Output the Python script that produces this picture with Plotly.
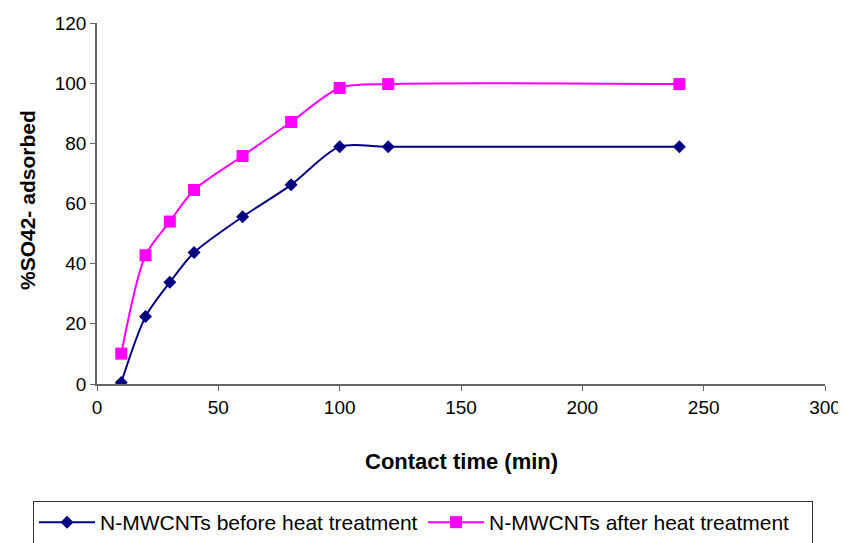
import plotly.graph_objects as go

time_min = [10, 20, 30, 40, 60, 80, 100, 120, 240]
before_heat = [0.5, 22.4, 33.8, 43.7, 55.6, 66.2, 78.9, 78.9, 78.9]
after_heat = [10.1, 42.8, 54.0, 64.5, 75.8, 87.1, 98.4, 99.7, 99.7]

# page body has an 8px margin, so the figure is made 8px smaller and
# margins are measured relative to the figure's own corner
OFF = 8
W, H = 846 - OFF, 543 - OFF
L, R, T, B = 97 - OFF, 21, 23 - OFF, 159
PW, PH = W - L - R, H - T - B
PLOT_BOTTOM = 384  # page px
PLOT_LEFT = 97


def px_x(x):
    return (x - PLOT_LEFT) / PW


def px_y(y):
    return (PLOT_BOTTOM - y) / PH


fig = go.Figure()
fig.add_trace(go.Scatter(
    x=time_min, y=before_heat, name="N-MWCNTs before heat treatment",
    mode="lines+markers",
    line=dict(color="#000080", width=2, shape="spline", smoothing=0.8),
    marker=dict(symbol="diamond", size=10, color="#000080"),
))
fig.add_trace(go.Scatter(
    x=time_min, y=after_heat, name="N-MWCNTs after heat treatment",
    mode="lines+markers",
    line=dict(color="#FF00FF", width=2, shape="spline", smoothing=0.8),
    marker=dict(symbol="square", size=12, color="#FF00FF"),
))

axis_font = dict(family="Liberation Sans, Arial, sans-serif", size=19, color="black")

fig.update_layout(
    width=W, height=H,
    margin=dict(l=L, r=R, t=T, b=B, autoexpand=False),
    paper_bgcolor="white", plot_bgcolor="white",
    font=axis_font,
    showlegend=True,
    legend=dict(
        orientation="h",
        x=px_x(33), xanchor="left", y=px_y(501), yanchor="top",
        bordercolor="#333333", borderwidth=1,
        font=dict(family="Liberation Sans, Arial, sans-serif", size=21, color="black"),
        itemwidth=56, entrywidth=318,
    ),
    xaxis=dict(
        range=[0, 300], tickvals=[0, 50, 100, 150, 200, 250, 300],
        showgrid=False, zeroline=False, automargin=False,
        showline=True, linecolor="#666666", linewidth=1.5,
        ticks="outside", ticklen=5, tickcolor="#666666",
        tickfont=axis_font,
    ),
    yaxis=dict(
        range=[0, 120], tickvals=[0, 20, 40, 60, 80, 100, 120],
        showgrid=False, zeroline=False, automargin=False,
        showline=True, linecolor="#666666", linewidth=1.5,
        ticks="outside", ticklen=5, tickcolor="#666666",
        tickfont=axis_font,
    ),
    annotations=[
        dict(text="<b>Contact time (min)</b>", xref="paper", yref="paper",
             x=px_x(461), y=px_y(461),
             xanchor="center", yanchor="middle", showarrow=False,
             font=dict(family="Liberation Sans, Arial, sans-serif", size=22, color="black")),
        dict(text="<b>%SO42- adsorbed</b>", xref="paper", yref="paper",
             x=px_x(27), y=px_y(200), textangle=-90,
             xanchor="center", yanchor="middle", showarrow=False,
             font=dict(family="Liberation Sans, Arial, sans-serif", size=21, color="black")),
    ],
)

fig.write_html("out.html")
